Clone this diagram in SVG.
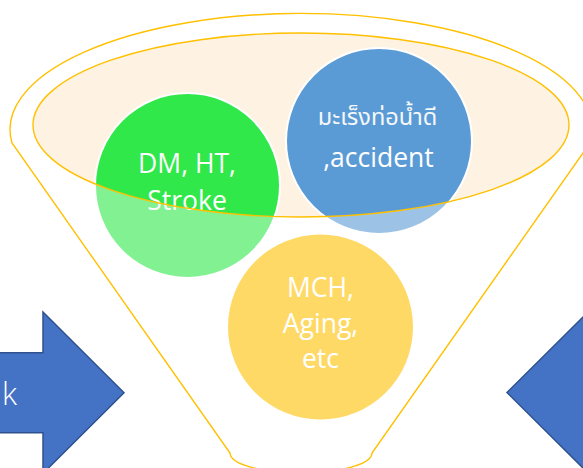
<svg xmlns="http://www.w3.org/2000/svg" width="583" height="468" viewBox="0 0 583 468">
  <defs>
    <style>
      .lbl { font-family: "Open Sans", "Noto Sans", "Liberation Sans", sans-serif; font-size: 26.5px; fill: #ffffff; text-anchor: middle; }
      .thai { font-family: "Noto Sans Thai", "Noto Sans", "DejaVu Sans", sans-serif; font-size: 23.5px; fill: #f4f7fb; text-anchor: middle; }
      .bubble { stroke: #ffffff; stroke-width: 2; }
      .rim { fill: none; stroke: #ffc000; stroke-width: 1.4; }
      .arrow { fill: #4472c4; stroke: #2f528f; stroke-width: 1.5; stroke-linejoin: miter; }
      .cut { font-family: "Open Sans", "Noto Sans", "Liberation Sans", sans-serif; font-size: 31px; font-weight: 300; fill: #ffffff; text-anchor: end; }
    </style>
  </defs>

  <rect width="583" height="468" fill="#ffffff"/>

  <!-- funnel mouth (filled opening behind the bubbles) -->
  <g id="funnel-mouth">
    <ellipse cx="301" cy="125" rx="268" ry="92" fill="#fef2e3"/>
  </g>

  <!-- bubbles -->
  <g id="node-green">
    <circle class="bubble" cx="187.5" cy="185.5" r="92.5" fill="#30e84a"/>
    <text class="lbl" x="187" y="173">DM, HT,</text>
    <text class="lbl" x="187" y="210">Stroke</text>
  </g>
  <g id="node-blue">
    <circle class="bubble" cx="379" cy="141" r="93" fill="#5b9bd5"/>
    <text class="thai" x="377.5" y="125">มะเร็งท่อน้ำดี</text>
    <text class="lbl" x="378.5" y="167">,accident</text>
  </g>
  <g id="node-yellow">
    <circle cx="320.5" cy="327" r="92.5" fill="#ffc000"/>
    <text class="lbl" x="320.5" y="297">MCH,</text>
    <text class="lbl" x="320.5" y="332.5">Aging,</text>
    <text class="lbl" x="320.5" y="368">etc</text>
  </g>

  <!-- translucent funnel body over the bubbles, open at the mouth -->
  <g id="funnel-body">
    <path fill="#ffffff" fill-opacity="0.4" fill-rule="evenodd"
          d="M12,143 A291,116 0 1 1 590,143 L372,453 A71,20 0 0 1 230,453 Z
             M33,125 A268,92 0 1 0 569,125 A268,92 0 1 0 33,125 Z"/>
    <path class="rim" d="M12,143 A291,116 0 1 1 590,143 L372,453 A71,20 0 0 1 230,453 Z"/>
    <ellipse class="rim" cx="301" cy="125" rx="268" ry="92" stroke-width="1.6"/>
  </g>

  <!-- block arrows pointing into the funnel -->
  <g id="arrow-left">
    <polygon class="arrow" points="-10,352.7 43,352.7 43,312 124,392.7 43,473.4 43,432.7 -10,432.7"/>
    <text class="cut" x="17" y="405">k</text>
  </g>
  <g id="arrow-right">
    <polygon class="arrow" points="620,352.7 588,352.7 588,312 507,392.5 588,473 588,432.7 620,432.7"/>
  </g>

  <g id="connectors"/>
</svg>
